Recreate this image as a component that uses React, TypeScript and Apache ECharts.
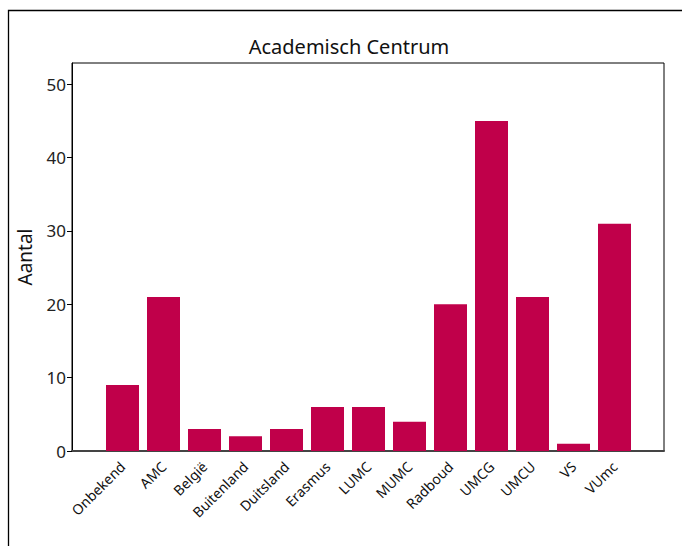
import React, { useEffect, useRef } from "react";
import * as echarts from "echarts";

const categories = [
  "Onbekend", "AMC", "België", "Buitenland", "Duitsland", "Erasmus", "LUMC",
  "MUMC", "Radboud", "UMCG", "UMCU", "VS", "VUmc",
];
const counts = [9, 21, 3, 2, 3, 6, 6, 4, 20, 45, 21, 1, 31];
const yTicks = [0, 10, 20, 30, 40, 50];
const titleText = "Academisch Centrum";
const yName = "Aantal";

const FONT = "'Noto Sans', 'Open Sans', sans-serif";

export default function App() {
  const ref = useRef<HTMLDivElement>(null);
  useEffect(() => {
    if (!ref.current) return;
    const chart = echarts.init(ref.current, null, { renderer: "svg" });
    const yMax = 52.9;
    chart.setOption({
      animation: false,
      backgroundColor: "#fff",
      textStyle: { fontFamily: FONT },
      title: {
        text: titleText,
        left: 344,
        textAlign: "center",
        top: 31,
        textStyle: { fontFamily: FONT, fontSize: 20, fontWeight: "normal", color: "#111" },
      },
      graphic: [
        {
          type: "rect",
          shape: { x: 8.5, y: 10.5, width: 720, height: 600 },
          style: { fill: "none", stroke: "#000", lineWidth: 1.3 },
          silent: true,
        },
      ],
      grid: [
        { left: 72, top: 63, width: 592, height: 388, show: true, borderColor: "#000", borderWidth: 1, backgroundColor: "transparent" },
        { left: 102, top: 63, width: 533, height: 388 },
      ],
      xAxis: [
        {
          gridIndex: 0, type: "value", min: 0, max: 1,
          axisLabel: { show: false }, axisTick: { show: false }, splitLine: { show: false },
          axisLine: { show: true, lineStyle: { color: "#444", width: 2 } },
        },
        {
          gridIndex: 1, type: "category", data: categories,
          axisLine: { show: false }, axisTick: { show: false },
          axisLabel: { rotate: 45, fontSize: 14, color: "#111", margin: 13, fontFamily: FONT, interval: 0 },
        },
      ],
      yAxis: [
        {
          gridIndex: 0, type: "value", min: 0, max: yMax, interval: 10,
          splitLine: { show: false },
          axisLine: { show: true, lineStyle: { color: "#000", width: 1 } },
          axisTick: { show: true, length: 5, lineStyle: { color: "#000" }, customValues: yTicks },
          axisLabel: { fontSize: 17, color: "#222", margin: 6, fontFamily: FONT, customValues: yTicks },
          name: yName, nameLocation: "middle", nameGap: 38,
          nameTextStyle: { fontSize: 19, color: "#111", fontFamily: FONT },
        },
        { gridIndex: 1, type: "value", min: 0, max: yMax, show: false },
      ],
      series: [
        {
          type: "bar", xAxisIndex: 1, yAxisIndex: 1, data: counts,
          barWidth: 33, itemStyle: { color: "#C0004A" },
        },
      ],
    });
    return () => chart.dispose();
  }, []);
  return <div ref={ref} style={{ position: "absolute", left: 0, top: 0, width: 682, height: 546 }} />;
}
